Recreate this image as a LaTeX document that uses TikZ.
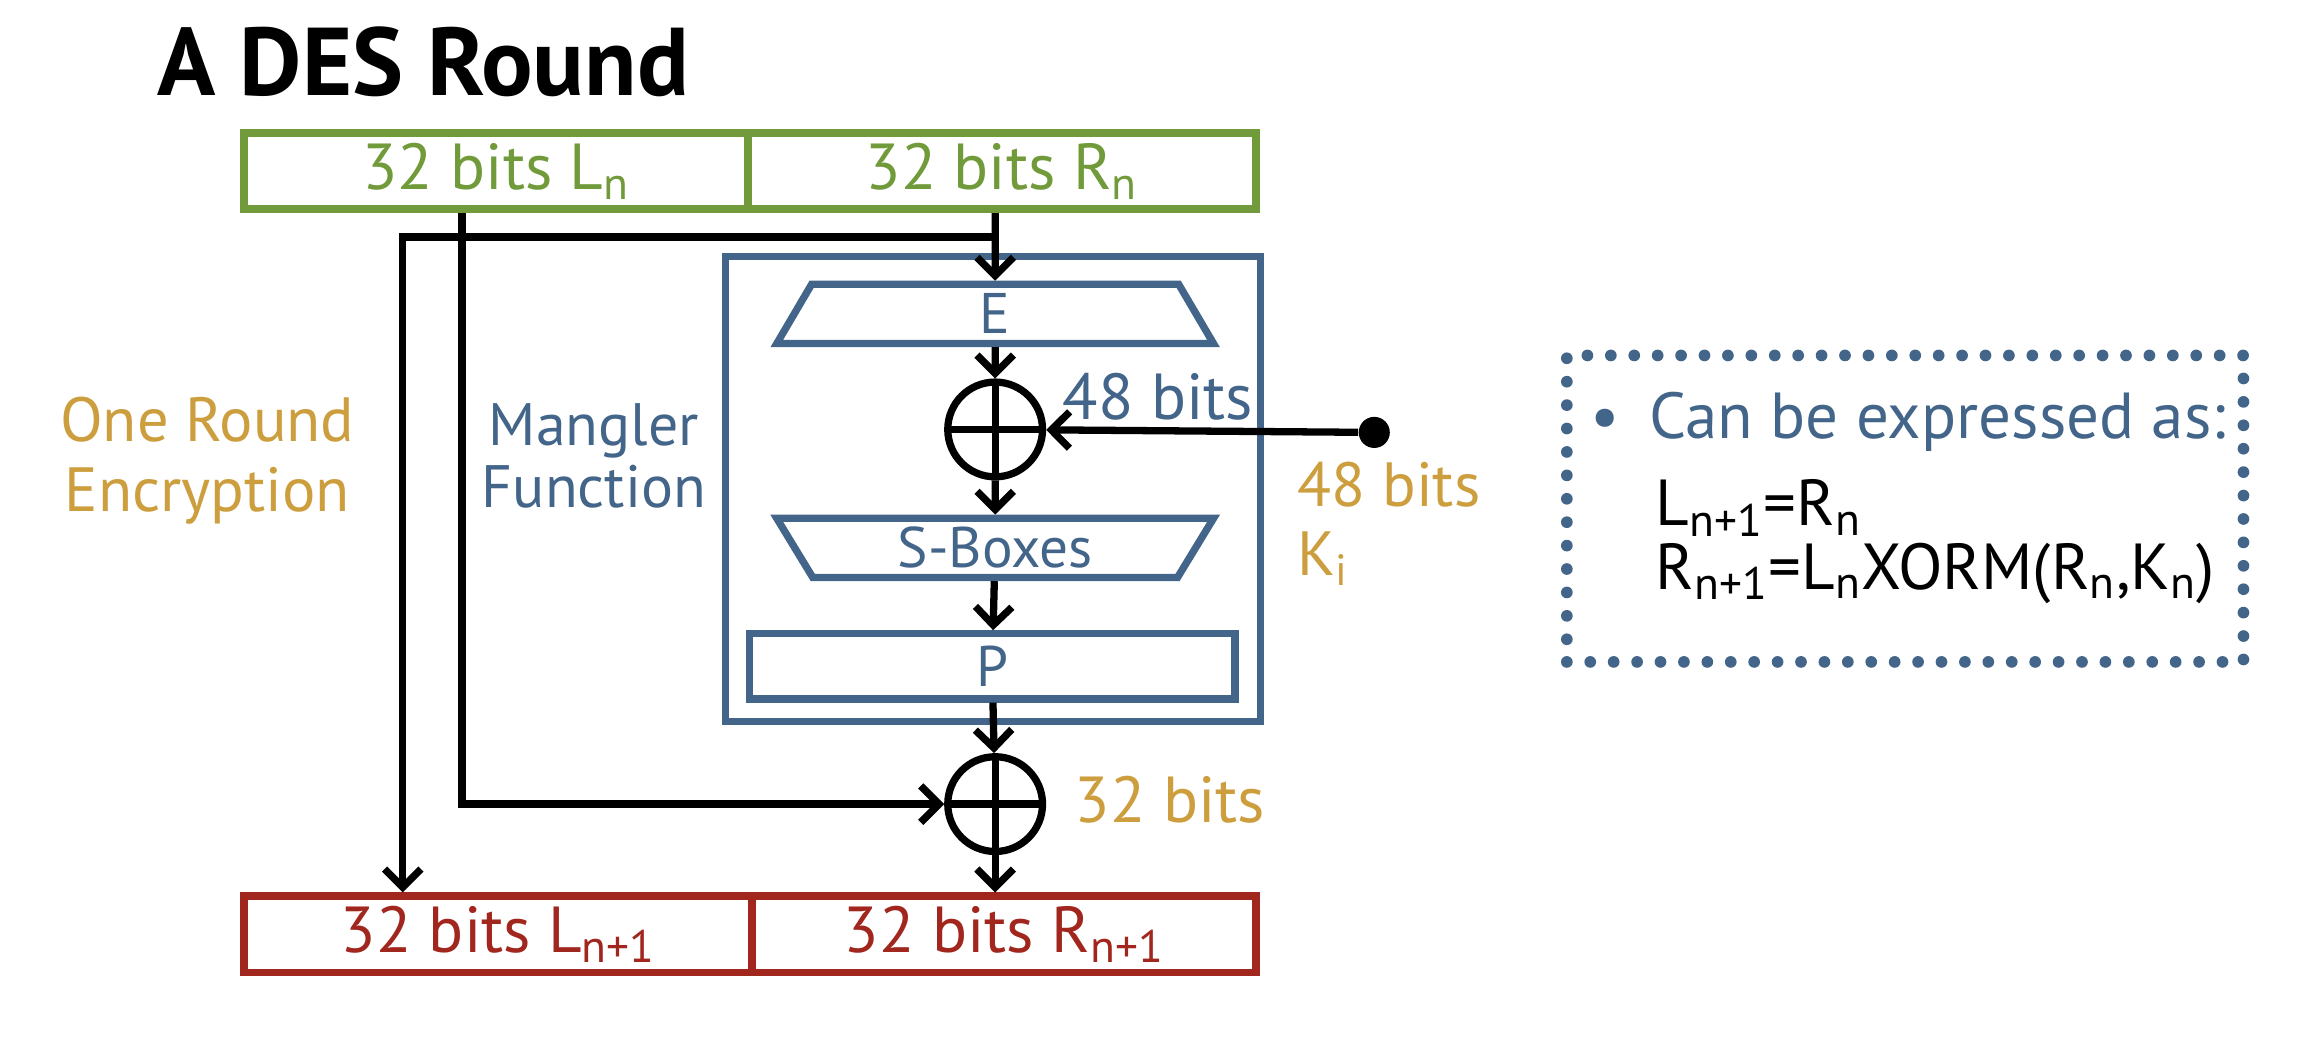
\documentclass[tikz,border=0pt]{standalone}
\usepackage{fontspec}
\setmainfont{PT Sans}
\usetikzlibrary{arrows.meta,shapes.geometric}
\definecolor{cgreen}{RGB}{113,155,59}
\definecolor{cblue}{RGB}{66,101,137}
\definecolor{cgold}{RGB}{204,158,62}
\definecolor{cred}{RGB}{160,38,30}
\begin{document}
\begin{tikzpicture}[x=0.02cm,y=-0.02cm,
  lbl/.style={font=\fontsize{25}{27}\selectfont},
  half/.style={draw, line width=3pt, minimum height=1.03cm, inner sep=0pt, lbl},
  greenbox/.style={half, draw=cgreen, text=cgreen},
  redbox/.style={half, draw=cred, text=cred},
  trap/.style={trapezium, draw=cblue, text=cblue, line width=2.8pt,
    trapezium left angle=49, trapezium right angle=49, trapezium stretches body,
    minimum width=5.9cm, minimum height=0.8cm, inner sep=0pt, font=\fontsize{22}{24}\selectfont},
  xorop/.style={circle, draw=black, line width=2.8pt, minimum size=1.28cm, inner sep=0pt,
    path picture={\draw[line width=2.8pt] (path picture bounding box.north) -- (path picture bounding box.south)
      (path picture bounding box.west) -- (path picture bounding box.east);}},
  arr/.style={-{Straight Barb[length=7pt,width=14pt]}, line width=2.8pt, draw=black},
  note/.style={draw=cblue, line width=4.5pt, line cap=round, dash pattern=on 0pt off 9pt},
]
\useasboundingbox (0,0) rectangle (1568,706);

% title
\node[anchor=west, font=\fontsize{37}{40}\selectfont\bfseries] (title) at (100,42) {A DES Round};

% input halves
\node[greenbox, minimum width=6.8cm] (Ln) at (335,115.5) {32 bits L\textsubscript{n}};
\node[greenbox, minimum width=6.86cm] (Rn) at (676.5,115.5) {32 bits R\textsubscript{n}};

% output halves
\node[redbox, minimum width=6.86cm] (Lnext) at (336.5,631) {32 bits L\textsubscript{n+1}};
\node[redbox, minimum width=6.8cm] (Rnext) at (678,631) {32 bits R\textsubscript{n+1}};

% mangler function box
\node[draw=cblue, line width=2.8pt, minimum width=7.22cm, minimum height=6.28cm, inner sep=0pt] (mangler) at (670.5,330) {};

\node[trap] (E) at (672,212) {E};
\node[xorop] (xor1) at (672,290) {};
\node[trap, shape border rotate=180] (S) at (672,370) {S-Boxes};
\node[draw=cblue, text=cblue, line width=2.8pt, minimum width=6.56cm, minimum height=0.88cm, inner sep=0pt, font=\fontsize{22}{24}\selectfont] (P) at (670,450) {P};
\node[xorop] (xor2) at (672,543) {};

\node[circle, fill=black, minimum size=0.42cm, inner sep=0pt] (key) at (928,292) {};

% labels
\node[lbl, text=cblue] (b48) at (782,268) {48 bits};
\node[text=cgold, anchor=west, inner sep=0pt, font=\fontsize{24}{26}\selectfont] (k48) at (876,327) {48 bits};
\node[text=cgold, anchor=west, inner sep=0pt, font=\fontsize{24}{26}\selectfont] (ki) at (876,377) {K\textsubscript{i}};
\node[lbl, text=cgold] (b32) at (790,540) {32 bits};
\node[lbl, text=cgold, align=center, font=\fontsize{24}{27}\selectfont] (ore) at (140,311) {One Round\\Encryption};
\node[lbl, text=cblue, align=center, font=\fontsize{23}{24}\selectfont] (mf) at (401,308) {Mangler\\Function};

% connectors
\coordinate (lx) at (312,0);
\coordinate (br) at (672,160);
\coordinate (lcol) at (272,160);
\draw[arr] (Rn.south -| E) -- (E);
\draw[arr] (br) -- (lcol) -- (lcol |- Lnext.north);
\draw[arr] (Ln.south -| lx) |- (xor2);
\draw[arr] (E) -- (xor1);
\draw[arr] (key) -- (xor1);
\draw[arr] (xor1) -- (S);
\draw[arr] (S) -- (P);
\draw[arr] (P) -- (xor2);
\draw[arr] (xor2) -- (xor2 |- Rnext.north);

% note box
\node[note, minimum width=9.14cm, minimum height=4.14cm, inner sep=0pt] (notebox) at (1286.5,343.5) {};
\node[lbl, text=cblue, anchor=west] (n1) at (1068,285) {•\hspace{0.45em}Can be expressed as:};
\node[lbl, anchor=west] (n2) at (1112,343) {L\textsubscript{n+1}=R\textsubscript{n}};
\node[lbl, anchor=west] (n3) at (1112,387) {R\textsubscript{n+1}=L\textsubscript{n}XORM(R\textsubscript{n},K\textsubscript{n})};
\end{tikzpicture}
\end{document}
